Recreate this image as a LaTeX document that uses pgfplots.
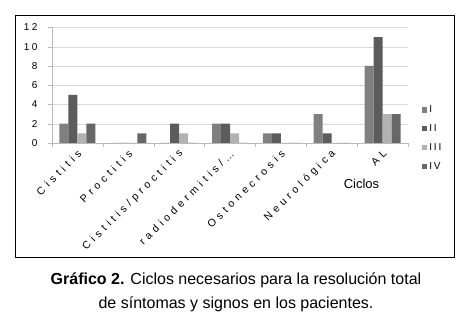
\documentclass[border=0pt]{standalone}
\usepackage{pgfplots}
\pgfplotsset{compat=1.18}
\usepackage{fontspec}
\setmainfont{Liberation Sans}
\newdimen\lsk \lsk=3pt
\def\lsrest#1{\ifx#1\relax\else\kern\lsk#1\expandafter\lsrest\fi}
\def\lsfirst#1{#1\lsrest}
\newcommand\ls[1]{\lsfirst#1\relax}
\newcommand\kA{\global\lsk 2.5pt\relax}
\newcommand\kB{\global\lsk 3.9pt\relax}
\newcommand\kC{\global\lsk 1.8pt\relax}
\newcommand\fA{\fontsize{10}{12}\selectfont}
\newcommand\fB{\fontsize{10.6}{12}\selectfont}
\definecolor{cI}{HTML}{808080}
\definecolor{cII}{HTML}{5C5C5C}
\definecolor{cIII}{HTML}{B2B2B2}
\definecolor{cIV}{HTML}{676767}
\begin{document}
\begin{tikzpicture}[x=1pt,y=1pt]
\path[use as bounding box] (0,0) rectangle (470,321);
\fill[white] (0,0) rectangle (470,321);
\draw[line width=1.2pt] (15.5,63.5) rectangle (454.5,305.5);
\begin{axis}[
  at={(52pt,178pt)}, anchor=south west,
  scale only axis, width=356pt, height=115.5pt,
  xmin=-0.5, xmax=6.5, ymin=0, ymax=12,
  ybar=0pt, bar width=9pt,
  axis lines*=left,
  axis line style={draw=gray!55},
  ymajorgrids, grid style={gray!30},
  ytick={0,2,...,12},
  yticklabels={0,2,4,6,8,{\kA\ls{10}},{\kA\ls{12}}},
  yticklabel style={font=\fA, xshift=-7pt},
  tick align=outside, major tick length=4pt,
  ytick style={draw=gray!55},
  xtick={0,...,6},
  xticklabels={{\kB\ls{Cistitis}},{\kB\ls{Proctitis}},{\kB\ls{Cistitis/proctitis}},{\kB\ls{radiodermitis/…}},{\kB\ls{Ostonecrosis}},{\kB\ls{Neurológica}},{\kB\ls{AL}}},
  xticklabel style={rotate=45, anchor=east, font=\fB, yshift=-5pt, xshift=1.5pt},
  xtick style={draw=none},
  extra x ticks={-0.5,0.5,...,6.5},
  extra x tick labels={},
  extra x tick style={xtick style={draw=gray!55}, grid=none},
  legend style={at={(1.03,0.36)}, anchor=north west, draw=none, fill=none,
    font=\fA, row sep=6.5pt},
  legend cell align=left,
  legend image code/.code={\fill[#1] (0pt,-2.7pt) rectangle (5.5pt,2.7pt);},
]
\addplot[fill=cI, draw=none] coordinates {(0,2) (1,0) (2,0) (3,2) (4,1) (5,3) (6,8)};
\addplot[fill=cII, draw=none] coordinates {(0,5) (1,0) (2,2) (3,2) (4,1) (5,1) (6,11)};
\addplot[fill=cIII, draw=none] coordinates {(0,1) (1,0) (2,1) (3,1) (4,0) (5,0) (6,3)};
\addplot[fill=cIV, draw=none] coordinates {(0,2) (1,1) (2,0) (3,0) (4,0) (5,0) (6,3)};
\legend{I,{\kC\ls{II}},{\kC\ls{III}},{\kC\ls{IV}}}
\end{axis}
\node[font=\fontsize{13}{15}\selectfont] at (361.5,137) {Ciclos};
\node[font=\fontsize{16}{18}\selectfont] at (236,41) {\textbf{Gráfico 2.} Ciclos necesarios para la resolución total};
\node[font=\fontsize{16}{18}\selectfont] at (236,17) {de síntomas y signos en los pacientes.};
\end{tikzpicture}
\end{document}
